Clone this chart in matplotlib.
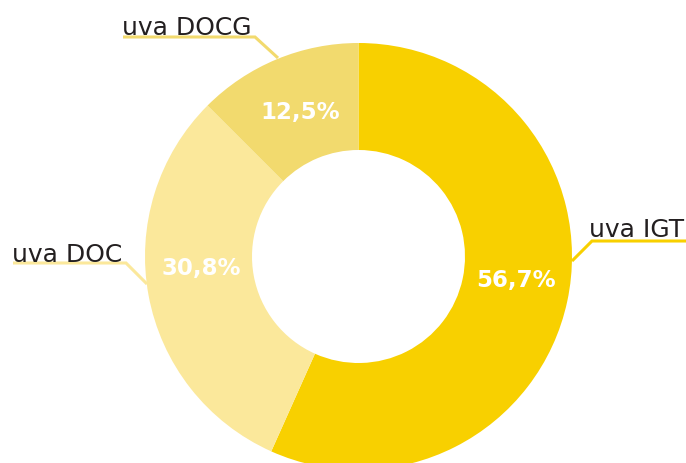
import matplotlib
matplotlib.use("Agg")
import matplotlib.pyplot as plt

# data
categories = ["uva IGT", "uva DOC", "uva DOCG"]
shares = [56.7, 30.8, 12.5]
colors = ["#F8D000", "#FBE89B", "#F2DA6E"]

W, H = 686, 464


def px(x, y):
    # pixel coords (origin top-left) -> data coords
    return x, H - y


fig = plt.figure(figsize=(W / 100, H / 100), dpi=100)
ax = fig.add_axes([0, 0, 1, 1])
ax.set_xlim(0, W)
ax.set_ylim(0, H)
ax.set_aspect("equal")
ax.axis("off")

cx, cy = px(358.5, 257.5)
ax.pie(shares, colors=colors, startangle=90, counterclock=False,
       radius=213.5, center=(cx, cy),
       wedgeprops=dict(width=107, linewidth=0))
ax.set_xlim(0, W)
ax.set_ylim(0, H)

# percentage labels (pixel positions of label centres)
pct_pos = [(516, 280), (201, 268), (300, 113)]
for v, (x, y) in zip(shares, pct_pos):
    ax.text(*px(x, y), f"{v:.1f}".replace(".", ",") + "%",
            ha="center", va="center", color="white",
            fontsize=16.5, fontweight="bold", family="DejaVu Sans")

# outside labels with leader lines: text start, baseline, underline path
label_layout = [
    dict(tx=589, ty=237, path=[(686, 242), (592, 242), (572, 262)]),
    dict(tx=12, ty=262, path=[(13, 264), (126, 264), (147, 285)]),
    dict(tx=122, ty=35, path=[(123, 38), (255, 38), (278, 59)]),
]
for name, col, lay in zip(categories, colors, label_layout):
    xs = [p[0] for p in lay["path"]]
    ys = [H - p[1] for p in lay["path"]]
    ax.plot(xs, ys, color=col, lw=2.2, solid_capstyle="butt",
            solid_joinstyle="miter")
    ax.text(*px(lay["tx"], lay["ty"]), name, ha="left", va="baseline",
            color="#231F20", fontsize=18, family="DejaVu Sans")

fig.savefig("out.png", dpi=100)
